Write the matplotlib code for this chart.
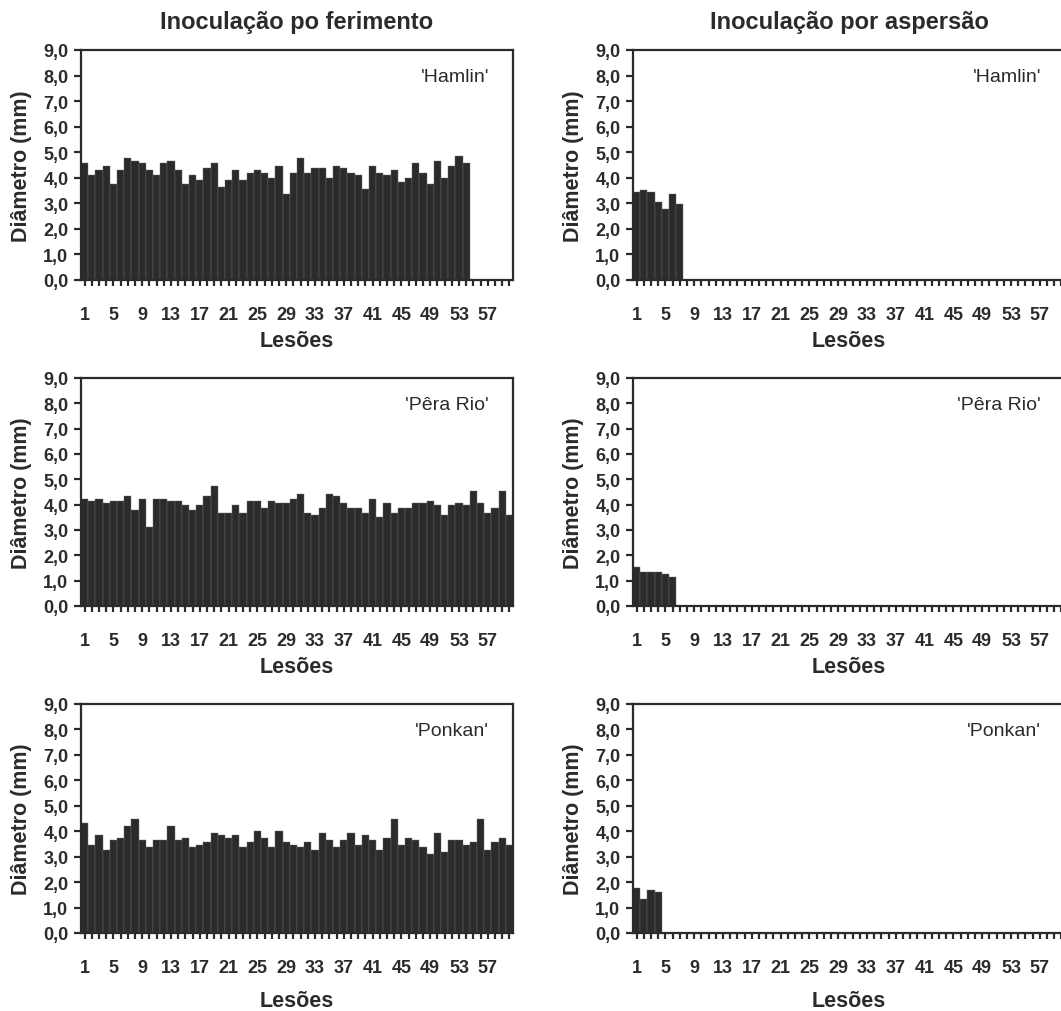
import matplotlib
matplotlib.use("Agg")
import matplotlib.pyplot as plt
import numpy as np

plt.rcParams['font.family'] = ['Liberation Sans', 'DejaVu Sans']

# diametro das lesoes (mm) - inoculacao por ferimento
hamlin_ferimento = [4.57, 4.11, 4.30, 4.48, 3.74, 4.30, 4.77, 4.66, 4.57, 4.30,
                    4.11, 4.57, 4.66, 4.30, 3.74, 4.11, 3.92, 4.39, 4.57, 3.64,
                    3.92, 4.30, 3.92, 4.20, 4.30, 4.20, 4.00, 4.48, 3.36, 4.20,
                    4.77, 4.20, 4.39, 4.39, 4.00, 4.48, 4.39, 4.20, 4.11, 3.55,
                    4.48, 4.20, 4.11, 4.30, 3.83, 4.00, 4.57, 4.20, 3.74, 4.66,
                    4.00, 4.48, 4.86, 4.57]
pera_ferimento = [4.24, 4.15, 4.24, 4.07, 4.15, 4.15, 4.35, 3.78, 4.24, 3.12,
                  4.24, 4.24, 4.15, 4.15, 3.98, 3.78, 3.98, 4.35, 4.73, 3.69,
                  3.69, 3.98, 3.69, 4.15, 4.15, 3.87, 4.15, 4.07, 4.07, 4.24,
                  4.44, 3.69, 3.60, 3.87, 4.44, 4.35, 4.07, 3.87, 3.87, 3.69,
                  4.24, 3.50, 4.07, 3.69, 3.87, 3.87, 4.07, 4.07, 4.15, 3.98,
                  3.60, 3.98, 4.07, 3.98, 4.55, 4.07, 3.69, 3.87, 4.55, 3.60]
ponkan_ferimento = [4.31, 3.47, 3.84, 3.28, 3.66, 3.75, 4.22, 4.49, 3.66, 3.38,
                    3.66, 3.66, 4.22, 3.66, 3.75, 3.38, 3.47, 3.57, 3.93, 3.84,
                    3.75, 3.84, 3.38, 3.57, 4.02, 3.75, 3.38, 4.02, 3.57, 3.47,
                    3.38, 3.57, 3.28, 3.93, 3.66, 3.38, 3.66, 3.93, 3.47, 3.84,
                    3.66, 3.28, 3.75, 4.49, 3.47, 3.75, 3.66, 3.38, 3.11, 3.93,
                    3.19, 3.66, 3.66, 3.47, 3.57, 4.49, 3.28, 3.57, 3.75, 3.47]

# inoculacao por aspersao
hamlin_aspersao = [3.46, 3.54, 3.45, 3.07, 2.79, 3.36, 2.99]
pera_aspersao = [1.53, 1.34, 1.34, 1.34, 1.25, 1.16]
ponkan_aspersao = [1.78, 1.32, 1.68, 1.60]

cultivares = ["'Hamlin'", "'Pêra Rio'", "'Ponkan'"]
titulos = ["Inoculação po ferimento", "Inoculação por aspersão"]
n_lesoes = 60
yticks = np.arange(0, 10, 1)
ytick_labels = ["%d,0" % v for v in yticks]
xtick_labels = [str(i) if (i - 1) % 4 == 0 else "" for i in range(1, n_lesoes + 1)]

dados = [[hamlin_ferimento, hamlin_aspersao],
         [pera_ferimento, pera_aspersao],
         [ponkan_ferimento, ponkan_aspersao]]

W, H = 1061, 1012
fig = plt.figure(figsize=(W / 100, H / 100), dpi=100)

cor = '#2b2b2d'
lefts = [81, 633]
tops = [51, 379, 705]
bottoms = [281, 607, 934]
largura = 432

for r in range(3):
    for c in range(2):
        ax = fig.add_axes([lefts[c] / W, 1 - bottoms[r] / H,
                           largura / W, (bottoms[r] - tops[r]) / H])
        vals = dados[r][c]
        x = np.arange(1, len(vals) + 1)
        ax.bar(x, vals, width=1.0, color=cor, edgecolor='#6e6e6e', linewidth=0.3)
        ax.set_xlim(0.5, n_lesoes + 0.5)
        ax.set_ylim(0, 9)
        ax.set_xticks(np.arange(1, n_lesoes + 1))
        ax.set_xticklabels(xtick_labels)
        ax.set_yticks(yticks)
        ax.set_yticklabels(ytick_labels)
        for s in ax.spines.values():
            s.set_color(cor)
            s.set_linewidth(1.6)
        ax.tick_params(axis='x', direction='out', length=4, width=1.6, color=cor,
                       pad=15, labelsize=13, labelcolor=cor)
        ax.tick_params(axis='y', direction='out', length=5, width=1.6, color=cor,
                       pad=4, labelsize=13, labelcolor=cor)
        for lb in ax.get_xticklabels() + ax.get_yticklabels():
            lb.set_fontweight('bold')
        ax.set_ylabel("Diâmetro (mm)", fontsize=15.5, fontweight='bold',
                      color=cor, labelpad=8)
        ax.set_xlabel("Lesões", fontsize=15.5, fontweight='bold', color=cor,
                      labelpad=10 if r == 2 else 5)
        ax.text(0.945, 0.885, cultivares[r], transform=ax.transAxes,
                ha='right', va='center', fontsize=14, color=cor)
        if r == 0:
            ax.set_title(titulos[c], fontsize=17, fontweight='bold', color=cor, pad=16)

fig.savefig("out.png", dpi=100)
